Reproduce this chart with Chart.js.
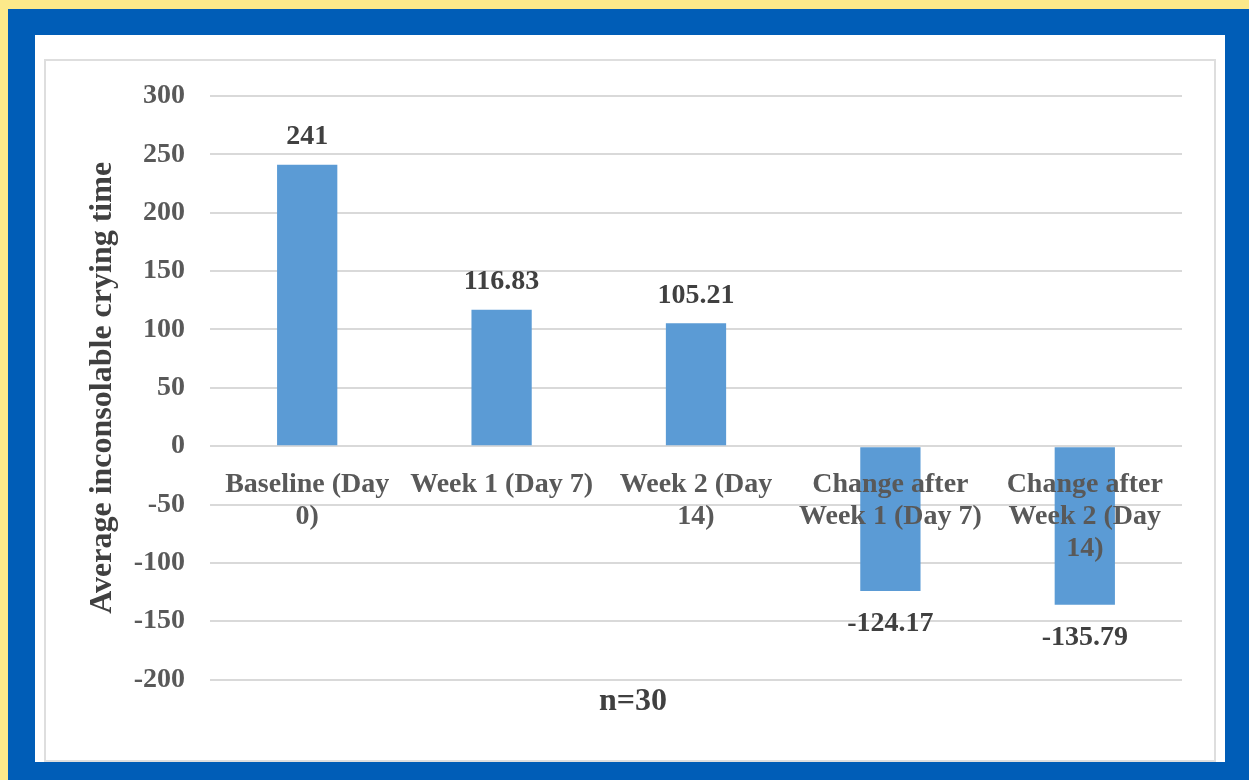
<!DOCTYPE html>
<html>
<head>
<meta charset="utf-8">
<script src="https://cdn.jsdelivr.net/npm/chart.js@4"></script>
<style>
  html, body { margin: 0; padding: 0; }
  body { width: 1249px; height: 780px; background: #fce98a; position: relative; overflow: hidden; }
  #frame { position: absolute; left: 8px; top: 9px; width: 1241px; height: 771px; background: #005db7; }
  #panel { position: absolute; left: 35px; top: 35px; width: 1190px; height: 727px; background: #fff; }
  #box { position: absolute; left: 44px; top: 59px; width: 1168px; height: 699px; border: 2px solid #dedede; background: #fff; }
  #box canvas { display: block; }
</style>
</head>
<body>
<div id="frame"></div>
<div id="panel"></div>
<div id="box"><canvas id="crying" width="1168" height="699"></canvas></div>
<script>
// chart data
const categories = [
  ['Baseline (Day', '0)'],
  ['Week 1 (Day 7)'],
  ['Week 2 (Day', '14)'],
  ['Change after', 'Week 1 (Day 7)'],
  ['Change after', 'Week 2 (Day', '14)']
];
const cryingTime = [241, 116.83, 105.21, -124.17, -135.79];
const valueLabels = ['241', '116.83', '105.21', '-124.17', '-135.79'];
const yTicks = [300, 250, 200, 150, 100, 50, 0, -50, -100, -150, -200];

const serif = "'Liberation Serif', 'Times New Roman', serif";
const textGrey = '#595959';
const darkGrey = '#404040';

// value labels above / below each bar
const barLabels = {
  id: 'barLabels',
  afterDatasetsDraw(chart) {
    const ctx = chart.ctx;
    const meta = chart.getDatasetMeta(0);
    ctx.save();
    ctx.font = 'bold 28px ' + serif;
    ctx.fillStyle = darkGrey;
    ctx.textAlign = 'center';
    ctx.textBaseline = 'middle';
    meta.data.forEach((bar, i) => {
      const v = cryingTime[i];
      const y = v >= 0 ? bar.y - 28 : bar.y + 33;
      ctx.fillText(valueLabels[i], bar.x, y);
    });
    ctx.restore();
  }
};

new Chart(document.getElementById('crying'), {
  type: 'bar',
  data: {
    labels: categories,
    datasets: [{
      data: cryingTime,
      backgroundColor: '#5b9bd5',
      borderWidth: 0,
      categoryPercentage: 1,
      barPercentage: 0.31
    }]
  },
  options: {
    responsive: false,
    animation: false,
    layout: { padding: { top: 35, right: 32, left: 38 } },
    plugins: {
      legend: { display: false },
      tooltip: { enabled: false },
      title: {
        display: true,
        position: 'bottom',
        text: 'n=30',
        color: darkGrey,
        font: { family: serif, size: 32, weight: 'bold' },
        padding: { top: 3, bottom: 39 }
      }
    },
    scales: {
      x: {
        position: { y: 0 },
        grid: { display: false, drawTicks: false },
        border: { display: false },
        ticks: {
          z: 1,
          color: textGrey,
          padding: 23,
          maxRotation: 0,
          autoSkip: false,
          font: { family: serif, size: 28, weight: 'bold', lineHeight: 1.14 }
        }
      },
      y: {
        min: -200,
        max: 300,
        afterBuildTicks(scale) { scale.ticks = yTicks.map(v => ({ value: v })); },
        afterFit(scale) {
          scale.width = 126;
          scale.paddingTop = 17;
          scale.paddingBottom = 17;
        },
        grid: { color: '#d9d9d9', lineWidth: 2, drawTicks: false },
        border: { display: false },
        ticks: {
          color: textGrey,
          padding: 25,
          font: { family: serif, size: 28, weight: 'bold' }
        },
        title: {
          display: true,
          text: 'Average inconsolable crying time',
          color: darkGrey,
          padding: { top: 0, bottom: 0 },
          font: { family: serif, size: 32, weight: 'bold' }
        }
      }
    }
  },
  plugins: [barLabels]
});
</script>
</body>
</html>
